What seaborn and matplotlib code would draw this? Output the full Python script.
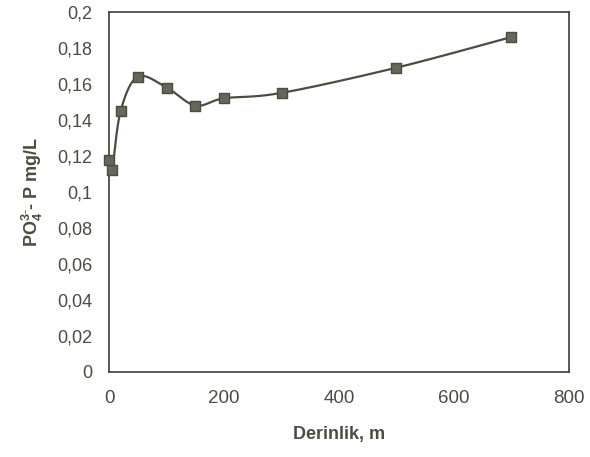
import numpy as np
import pandas as pd
import matplotlib
matplotlib.use("Agg")
import matplotlib.pyplot as plt
import seaborn as sns
from matplotlib.ticker import FuncFormatter

# values
depth_m = [0, 5, 20, 50, 100, 150, 200, 300, 500, 700]
po4_p = [0.118, 0.112, 0.145, 0.164, 0.158, 0.148, 0.152, 0.155, 0.169, 0.186]

x_ticks = [0, 200, 400, 600, 800]
y_ticks = [0, 0.02, 0.04, 0.06, 0.08, 0.1, 0.12, 0.14, 0.16, 0.18, 0.2]

ink = "#4a4d40"
marker_fill = "#64675a"


def smooth_line(x, y, n=40):
    # excel-style smoothed line: cubic bezier segments, control points from neighbours
    x = np.asarray(x, float)
    y = np.asarray(y, float)
    pts = np.column_stack([x, y])
    out = []
    t = np.linspace(0, 1, n)[:, None]
    for i in range(len(pts) - 1):
        p0 = pts[i - 1] if i > 0 else pts[i]
        p1, p2 = pts[i], pts[i + 1]
        p3 = pts[i + 2] if i + 2 < len(pts) else pts[i + 1]
        c1 = p1 + (p2 - p0) / 6
        c2 = p2 - (p3 - p1) / 6
        seg = ((1 - t) ** 3) * p1 + 3 * ((1 - t) ** 2) * t * c1 + 3 * (1 - t) * t ** 2 * c2 + t ** 3 * p2
        out.append(seg if i == 0 else seg[1:])
    seg = np.vstack(out)
    return seg[:, 0], seg[:, 1]


sns.set_style("white")
plt.rcParams["font.family"] = ["Liberation Sans", "DejaVu Sans"]
plt.rcParams["mathtext.fontset"] = "custom"
plt.rcParams["mathtext.rm"] = "Liberation Sans"
plt.rcParams["mathtext.bf"] = "Liberation Sans:bold"

df = pd.DataFrame({"depth": depth_m, "po4": po4_p})
sx, sy = smooth_line(df["depth"], df["po4"])
curve = pd.DataFrame({"depth": sx, "po4": sy})

fig = plt.figure(figsize=(5.9, 4.57), dpi=100)
ax = fig.add_axes([0.185, 0.186, 0.779, 0.788])

sns.lineplot(data=curve, x="depth", y="po4", ax=ax, color=ink, linewidth=1.6,
             sort=False, estimator=None)
sns.scatterplot(data=df, x="depth", y="po4", ax=ax, marker="s", s=48,
                color=marker_fill, edgecolor=ink, linewidth=1.0, zorder=3,
                clip_on=False)

ax.set_xlim(0, 800)
ax.set_ylim(0, 0.2)
ax.set_xticks(x_ticks)
ax.set_yticks(y_ticks)
ax.yaxis.set_major_formatter(FuncFormatter(lambda v, p: f"{v:g}".replace(".", ",")))

for s in ax.spines.values():
    s.set_color(ink)
    s.set_linewidth(1.3)

ax.tick_params(axis="both", direction="out", length=3, width=1, color=ink,
               labelcolor=ink)
ax.tick_params(axis="x", labelsize=13.5, pad=10)
ax.tick_params(axis="y", labelsize=13, pad=9)

ax.set_xlabel("Derinlik, m", fontsize=13, fontweight="bold", color=ink, labelpad=14)
ax.set_ylabel(r"$\mathbf{PO_4^{3\text{-}}}$- P mg/L", fontsize=13, fontweight="bold",
              color=ink, labelpad=9)

fig.savefig("out.png", dpi=100)
